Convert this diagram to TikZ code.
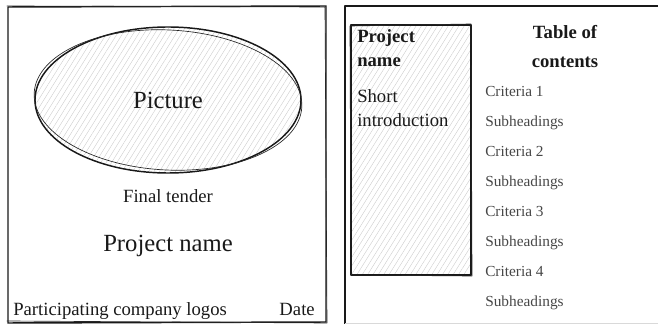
\documentclass[tikz,border=0pt]{standalone}
\usepackage{fontspec}
\setmainfont{Liberation Serif}
\usetikzlibrary{positioning, shapes.geometric, patterns.meta}

\tikzset{
  sketch/.style={line width=1.1pt, draw=black!90, line join=round, line cap=round},
  rough/.style={line width=0.5pt, draw=black!85, line join=round, line cap=round},
  hatch/.style={pattern={Lines[angle=58, distance=3.4pt, line width=0.3pt]}, pattern color=black!20},
  big/.style={font=\fontsize{18.5}{22}\selectfont, text=black!90, inner sep=0pt},
  mid/.style={font=\fontsize{14}{18}\selectfont, text=black!90, inner sep=0pt},
  head/.style={font=\fontsize{14}{18}\selectfont\bfseries, text=black!90, inner sep=0pt},
  toc/.style={font=\fontsize{11.5}{14}\selectfont, text=black!72, inner sep=0pt, anchor=base west},
}

\begin{document}
\begin{tikzpicture}[x=0.75pt, y=-0.75pt, node distance=10pt]
\useasboundingbox (0,0) rectangle (658,324);

% cover page
\draw[sketch] (8,7) -- (326,6) -- (326,322) -- (8,323) -- cycle;
\draw[rough] (7,6) -- (325,7) -- (327,323) -- (7,321);

\node[ellipse, sketch, hatch, big, minimum width=199.5pt, minimum height=109.5pt] (picture) at (168,100) {Picture};
\draw[rough, rotate around={-3:(picture.center)}] (picture.center) ellipse [x radius=100.5pt, y radius=52.5pt];

\node[mid, anchor=base] (tender) at (168,203) {Final tender};
\node[big, anchor=base] (pname) at (168,252) {Project name};
\node[mid, anchor=base west] (logos) at (13,316) {Participating company logos};
\node[mid, anchor=base east] (date) at (315,316) {Date};

% contents page
\draw[sketch] (660,6) -- (345,6) -- (345,326);
\draw[black!15, line width=0.6pt] (345,323) -- (660,323);

\draw[sketch, hatch] (351,25) rectangle (471,275);
\draw[rough] (350,26) -- (471,24) -- (472,276) -- (351,275) -- cycle;

% base of a two-line node is the last line
\node[head, align=left, anchor=base west] (title) at (357,67) {Project\\name};
\node[mid, align=left, anchor=base west] (intro) at (357,127) {Short\\introduction};

\node[head, align=center, anchor=base] (tochead) at (565,68) {Table of\\[4pt]contents};
\foreach \k in {1,...,4} {
  \node[toc] (crit\k) at (485,{97+60*(\k-1)}) {Criteria \k};
  \node[toc] (subh\k) at (485,{127+60*(\k-1)}) {Subheadings};
}
\end{tikzpicture}
\end{document}
